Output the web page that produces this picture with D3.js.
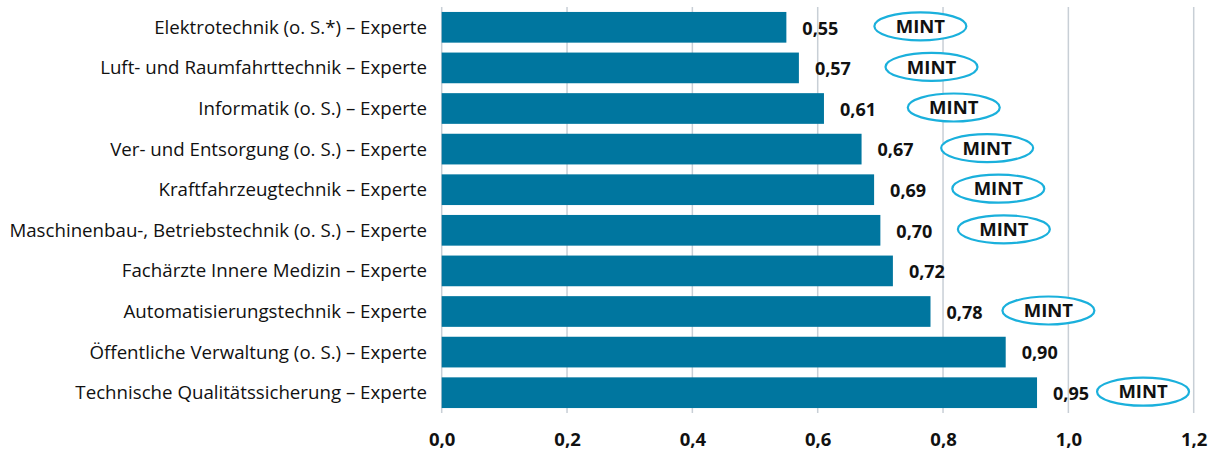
<!DOCTYPE html>
<html>
  <head>
    <meta charset="UTF-8" />
    <script src="https://cdnjs.cloudflare.com/ajax/libs/d3/7.8.5/d3.min.js"></script>
    <style>
      body { margin: 0; background: #fff; }
      text { font-family: "Open Sans", "Noto Sans", sans-serif; fill: #111; }
      .cat { font-size: 18.7px; }
      .val { font-size: 18px; font-weight: bold; }
      .tick text { font-size: 18.5px; font-weight: bold; }
      .grid line { stroke: #c8cfd6; stroke-width: 1.5; }
      rect.bar { fill: #00769f; }
      ellipse.mint { fill: #fff; stroke: #1ab0dc; stroke-width: 2.2; }
      .mintlabel { font-size: 18.5px; font-weight: bold; }
    </style>
  </head>
  <body>
    <svg id="chart" width="1221" height="453"></svg>
    <script>
      var categories = [
        "Elektrotechnik (o. S.*) – Experte",
        "Luft- und Raumfahrttechnik – Experte",
        "Informatik (o. S.) – Experte",
        "Ver- und Entsorgung (o. S.) – Experte",
        "Kraftfahrzeugtechnik – Experte",
        "Maschinenbau-, Betriebstechnik (o. S.) – Experte",
        "Fachärzte Innere Medizin – Experte",
        "Automatisierungstechnik – Experte",
        "Öffentliche Verwaltung (o. S.) – Experte",
        "Technische Qualitätssicherung – Experte"
      ];
      var values = [0.55, 0.57, 0.61, 0.67, 0.69, 0.70, 0.72, 0.78, 0.90, 0.95];
      var mint = [true, true, true, true, true, true, false, true, false, true];
      var ticks = [0, 0.2, 0.4, 0.6, 0.8, 1.0, 1.2];

      var data = categories.map((c, i) => ({ name: c, value: values[i], mint: mint[i] }));
      var fmt = v => d3.format(".2f")(v).replace(".", ",");

      var svg = d3.select("#chart");

      var x = d3.scaleLinear().domain([0, 1.2]).range([441.7, 1193.7]);
      var y = d3.scaleBand()
        .domain(categories)
        .range([7, 413])
        .paddingInner(0.244)
        .paddingOuter(0.122);

      // MINT-Marker rücken bei längeren Balken etwas näher heran
      var mintX = d3.scaleLinear()
        .domain([0.55, 0.95])
        .range([x(0.55) + 134, x(0.95) + 106]);

      svg.append("g")
        .attr("class", "grid")
        .selectAll("line")
        .data(ticks)
        .enter()
        .append("line")
        .attr("x1", d => x(d))
        .attr("x2", d => x(d))
        .attr("y1", 7)
        .attr("y2", 413);

      var xAxis = d3.axisBottom(x)
        .tickValues(ticks)
        .tickSize(0)
        .tickPadding(0)
        .tickFormat(d => d3.format(".1f")(d).replace(".", ","));

      svg.append("g")
        .attr("transform", "translate(0,433)")
        .call(xAxis)
        .call(g => g.select(".domain").remove())
        .selectAll("text")
        .attr("dy", "0.71em");

      svg.append("g")
        .selectAll("rect")
        .data(data)
        .enter()
        .append("rect")
        .attr("class", "bar")
        .attr("x", x(0))
        .attr("y", d => y(d.name))
        .attr("width", d => x(d.value) - x(0))
        .attr("height", y.bandwidth());

      svg.append("g")
        .selectAll("text")
        .data(data)
        .enter()
        .append("text")
        .attr("class", "cat")
        .attr("x", 427)
        .attr("y", d => y(d.name) + y.bandwidth() / 2)
        .attr("dy", "0.35em")
        .text(d => d.name);

      svg.selectAll("text.cat").attr("text-anchor", "end");

      svg.append("g")
        .selectAll("text")
        .data(data)
        .enter()
        .append("text")
        .attr("class", "val")
        .attr("x", d => x(d.value) + 16)
        .attr("y", d => y(d.name) + y.bandwidth() / 2 + 1)
        .attr("dy", "0.35em")
        .text(d => fmt(d.value));

      var marks = svg.append("g")
        .selectAll("g")
        .data(data.filter(d => d.mint))
        .enter()
        .append("g")
        .attr("transform", d => "translate(" + mintX(d.value) + "," + (y(d.name) + y.bandwidth() / 2 - 1) + ")");

      marks.append("ellipse")
        .attr("class", "mint")
        .attr("rx", 46)
        .attr("ry", 14);

      marks.append("text")
        .attr("class", "mintlabel")
        .attr("text-anchor", "middle")
        .attr("dy", "0.36em")
        .text("MINT");
    </script>
  </body>
</html>
